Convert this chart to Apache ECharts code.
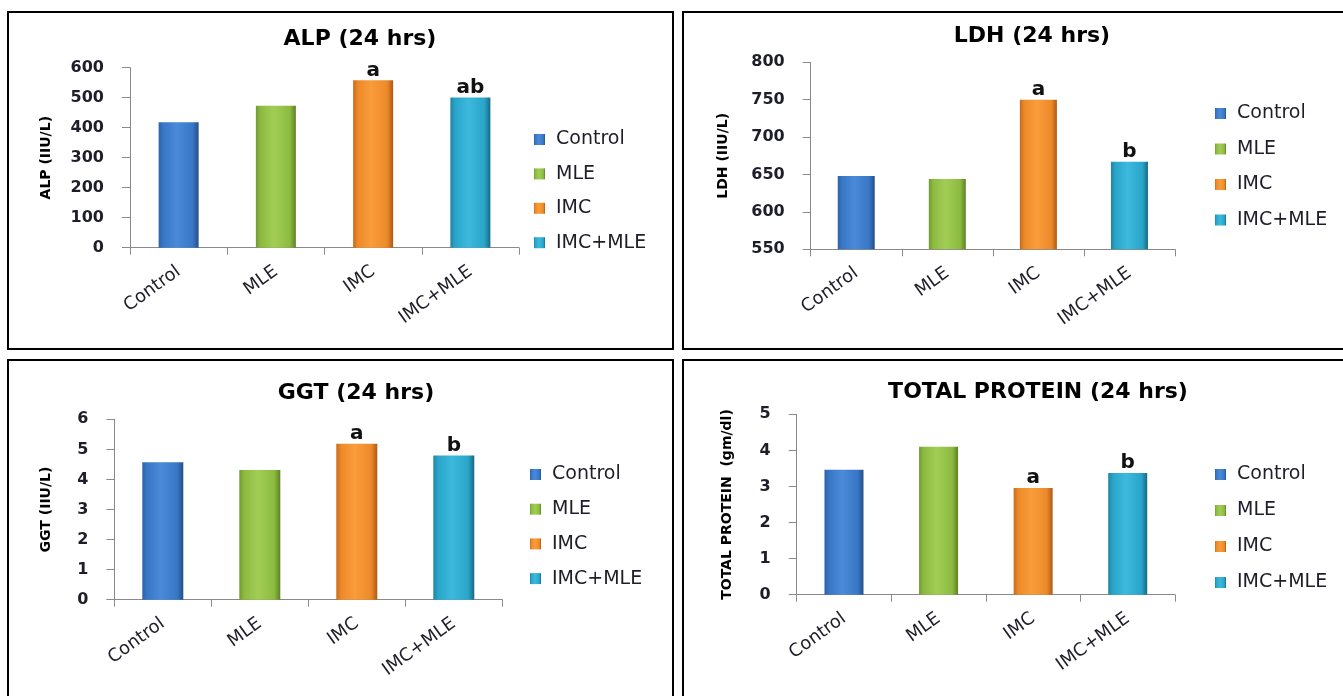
<!DOCTYPE html>
<html>
<head>
<meta charset="utf-8">
<title>Liver markers at 24 hrs</title>
<script src="https://cdn.jsdelivr.net/npm/echarts@6/dist/echarts.min.js"></script>
<style>
  html, body { margin: 0; padding: 0; background: #ffffff; }
  #chart { width: 1343px; height: 696px; }
</style>
</head>
<body>
<div id="chart"></div>
<script>
// Treatment groups shown on every panel
const categories = ['Control', 'MLE', 'IMC', 'IMC+MLE'];

// Group means, 24 hrs
const alpValues = [418, 473, 558, 501];
const ldhValues = [648, 644, 750, 667];
const ggtValues = [4.57, 4.31, 5.19, 4.80];
const proteinValues = [3.46, 4.10, 2.96, 3.37];

// Significance letters printed above the bars
const alpLetters = ['', '', 'a', 'ab'];
const ldhLetters = ['', '', 'a', 'b'];
const ggtLetters = ['', '', 'a', 'b'];
const proteinLetters = ['', '', 'a', 'b'];

// Value-axis tick labels
const alpTicks = [0, 100, 200, 300, 400, 500, 600];
const ldhTicks = [550, 600, 650, 700, 750, 800];
const ggtTicks = [0, 1, 2, 3, 4, 5, 6];
const proteinTicks = [0, 1, 2, 3, 4, 5];

// Panel titles and axis names
const titles = ['ALP (24 hrs)', 'LDH (24 hrs)', 'GGT (24 hrs)', 'TOTAL PROTEIN (24 hrs)'];
const axisNames = ['ALP (IIU/L)', 'LDH (IIU/L)', 'GGT (IIU/L)', 'TOTAL PROTEIN  (gm/dl)'];

// Bevel-like shading per group: [left edge, body, highlight, right edge]
const palette = [
  ['#2d62a8', '#3877c6', '#4a8ad8', '#244f88'],
  ['#739a32', '#8cbb40', '#a2cd55', '#5e8027'],
  ['#c96a1c', '#ec8a2a', '#fa9c3a', '#b05816'],
  ['#1f84a2', '#2aa5ca', '#3cb9dc', '#176a82']
];

function barFill(c) {
  return new echarts.graphic.LinearGradient(0, 0, 1, 0, [
    { offset: 0, color: c[0] },
    { offset: 0.12, color: c[1] },
    { offset: 0.45, color: c[2] },
    { offset: 0.85, color: c[1] },
    { offset: 1, color: c[3] }
  ]);
}

// Layout of the four panels (pixels)
const panels = [
  { values: alpValues, letters: alpLetters, ticks: alpTicks,
    grid: { left: 130, top: 67.7, width: 389, height: 180 },
    title: [360, 39], nameGap: 77, barWidth: 40,
    legend: { left: 534, top: 130, itemGap: 15.4 },
    box: [8, 12, 665, 337] },
  { values: ldhValues, letters: ldhLetters, ticks: ldhTicks,
    grid: { left: 810.7, top: 62.3, width: 364.3, height: 187 },
    title: [1032, 36], nameGap: 80, barWidth: 37,
    legend: { left: 1215, top: 104, itemGap: 16.5 },
    box: [683, 12, 664, 337] },
  { values: ggtValues, letters: ggtLetters, ticks: ggtTicks,
    grid: { left: 114.3, top: 419.3, width: 388, height: 180.4 },
    title: [356, 393], nameGap: 61, barWidth: 41,
    legend: { left: 530, top: 465, itemGap: 15.7 },
    box: [8, 360, 665, 340] },
  { values: proteinValues, letters: proteinLetters, ticks: proteinTicks,
    grid: { left: 796.7, top: 414.3, width: 378.3, height: 180.4 },
    title: [1038, 392], nameGap: 62, barWidth: 39,
    legend: { left: 1215, top: 465, itemGap: 17 },
    box: [683, 360, 664, 340] }
];

const axisColor = '#8a8a8a';
const textColor = '#1e1e2a';

const grids = [], xAxes = [], yAxes = [], series = [], legends = [], graphics = [];

panels.forEach((p, pi) => {
  grids.push(Object.assign({ outerBoundsMode: 'none', containLabel: false }, p.grid));

  xAxes.push({
    type: 'category', gridIndex: pi, data: categories,
    axisLine: { lineStyle: { color: axisColor, width: 1 } },
    axisTick: { show: true, length: 7, lineStyle: { color: axisColor } },
    axisLabel: { rotate: 36, margin: 22, color: textColor,
      fontFamily: 'DejaVu Sans', fontSize: 18 }
  });

  const ticks = p.ticks;
  yAxes.push({
    type: 'value', gridIndex: pi,
    min: ticks[0], max: ticks[ticks.length - 1], interval: ticks[1] - ticks[0],
    name: axisNames[pi], nameLocation: 'middle', nameGap: p.nameGap,
    nameTextStyle: { fontFamily: 'DejaVu Sans', fontWeight: 'bold', fontSize: 14, color: '#000' },
    axisLine: { show: true, lineStyle: { color: axisColor, width: 1 } },
    axisTick: { show: true, length: 8, lineStyle: { color: axisColor } },
    splitLine: { show: false },
    axisLabel: { margin: 26, color: textColor, fontFamily: 'DejaVu Sans',
      fontWeight: 'bold', fontSize: 16 }
  });

  categories.forEach((name, ci) => {
    const letter = p.letters[ci];
    series.push({
      type: 'bar', name: name,
      xAxisIndex: pi, yAxisIndex: pi,
      data: p.values.map((v, j) => (j === ci ? v : '-')),
      barWidth: p.barWidth, barGap: '-100%',
      clip: true,
      itemStyle: { color: barFill(palette[ci]) },
      label: {
        show: letter !== '', position: 'top', distance: 0,
        formatter: letter,
        fontFamily: 'DejaVu Sans', fontWeight: 'bold', fontSize: 20, color: '#111'
      },
      emphasis: { disabled: true }
    });
  });

  legends.push({
    orient: 'vertical', left: p.legend.left, top: p.legend.top, padding: 0,
    itemGap: p.legend.itemGap, itemWidth: 11, itemHeight: 11, icon: 'rect',
    data: categories,
    textStyle: { fontFamily: 'DejaVu Sans', fontSize: 19, lineHeight: 19,
      color: textColor, padding: [0, 0, 0, 6] }
  });

  graphics.push({
    type: 'rect', silent: true,
    shape: { x: p.box[0], y: p.box[1], width: p.box[2], height: p.box[3] },
    style: { fill: 'none', stroke: '#000', lineWidth: 2 }
  });
  graphics.push({
    type: 'text', silent: true, x: p.title[0], y: p.title[1],
    style: { text: titles[pi], fill: '#000', align: 'center', verticalAlign: 'middle',
      font: 'bold 22px "DejaVu Sans"' }
  });
});

const chart = echarts.init(document.getElementById('chart'), null, { renderer: 'canvas' });
chart.setOption({
  animation: false,
  backgroundColor: '#ffffff',
  grid: grids,
  xAxis: xAxes,
  yAxis: yAxes,
  legend: legends,
  series: series,
  graphic: graphics
});
</script>
</body>
</html>
